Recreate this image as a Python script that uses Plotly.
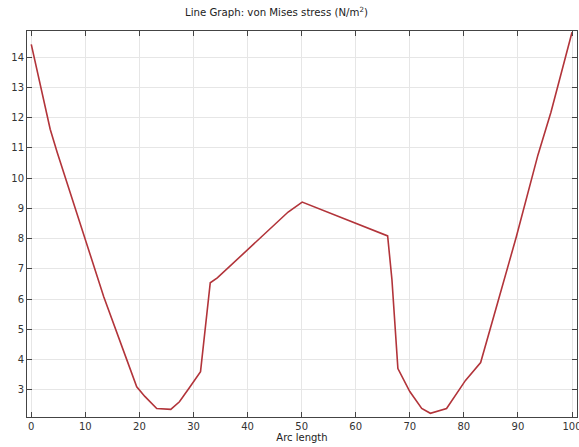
import plotly.graph_objects as go

arc_length = [0, 3.5, 4.8, 10.0, 13.4, 17.3, 19.5, 21.0, 23.2, 25.8, 27.4, 29.3, 31.3,
              33.1, 34.4, 47.5, 50.1, 65.9, 66.7, 67.8, 70.0, 72.2, 73.8, 76.8, 79.4,
              80.3, 83.1, 84.9, 86.4, 89.7, 93.7, 96.1, 100.0]
stress = [14.43, 11.62, 10.85, 7.98, 6.08, 4.17, 3.1, 2.78, 2.38, 2.35, 2.6, 3.08, 3.6,
          6.54, 6.7, 8.88, 9.21, 8.09, 6.64, 3.7, 2.94, 2.38, 2.22, 2.38, 3.08,
          3.31, 3.9, 4.99, 5.98, 8.06, 10.77, 12.18, 14.83]

fig = go.Figure(go.Scatter(x=arc_length, y=stress, mode="lines",
                           line=dict(color="#b2343a", width=1.6), showlegend=False))

axis_common = dict(showgrid=True, gridcolor="#e6e6e6", gridwidth=1,
                   showline=True, linecolor="#444", linewidth=1, mirror="ticks",
                   ticks="inside", ticklen=5, tickcolor="#444",
                   tickfont=dict(family="DejaVu Sans", size=10, color="#333"),
                   ticklabeloverflow="allow", automargin=False,
                   zeroline=False)

fig.update_layout(
    width=579, height=447, autosize=False,
    margin=dict(l=27, r=2, t=31, b=30, autoexpand=False),
    paper_bgcolor="white", plot_bgcolor="white",
    title=dict(text="Line Graph: von Mises stress (N/m<sup>2</sup>)", x=0.4775, xanchor="center",
               y=0.972, yanchor="middle",
               font=dict(family="DejaVu Sans", size=10.2, color="#222")),
    xaxis=dict(range=[-0.79, 100.92], tickmode="linear", tick0=0, dtick=10,
               title=dict(text="Arc length", standoff=2,
                          font=dict(family="DejaVu Sans", size=10, color="#222")),
               **axis_common),
    yaxis=dict(range=[2.098, 14.87], tickmode="linear", tick0=3, dtick=1, **axis_common),
)

fig.write_html("out.html", config={"displayModeBar": False, "responsive": False},
               post_script="document.body.style.margin='0';document.body.style.overflow='hidden';")
